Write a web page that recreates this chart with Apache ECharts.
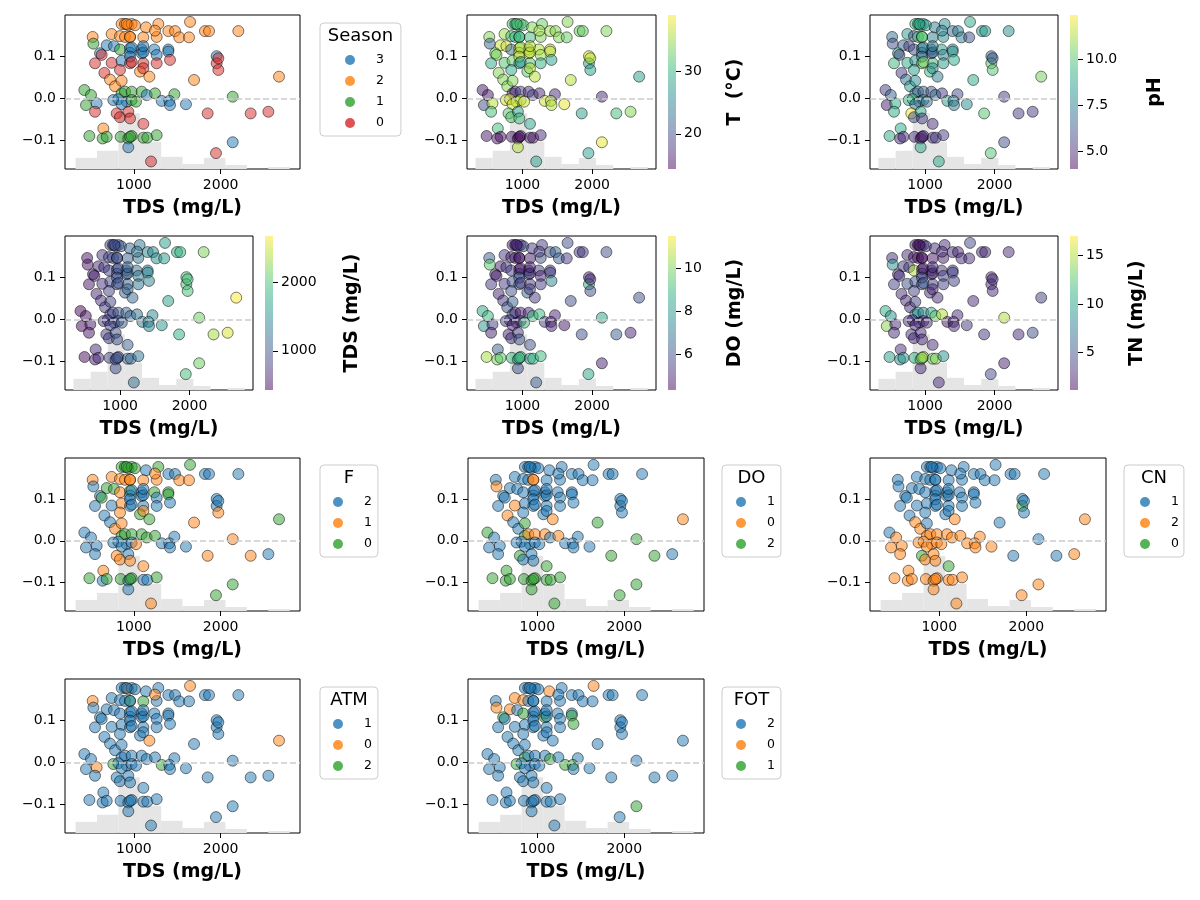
<!DOCTYPE html>
<html>
<head>
<meta charset="utf-8">
<script src="https://cdn.jsdelivr.net/npm/echarts@6/dist/echarts.min.js"></script>
<style>
  html, body { margin: 0; background: #fff; }
  #chart { width: 1200px; height: 900px; }
</style>
</head>
<body>
<div id="chart"></div>
<script>
// ---- data ----
const tds = [858,897,935,974,1012,1139,1281,1647,1397,1474,
  1819,1866,2204,524,743,839,897,955,1108,1262,
  1523,1635,1243,532,686,770,839,955,1089,1235,
  1397,609,628,955,1089,1262,1397,1954,551,743,
  858,955,1108,1262,1416,1954,1973,1973,659,839,
  1070,1108,1178,724,782,858,1693,2673,428,505,
  858,897,974,1089,1147,1243,1466,2139,447,570,
  762,820,916,974,1024,1320,1408,1416,1600,858,
  551,801,839,935,955,1850,2346,2550,1108,647,
  486,639,686,847,935,974,1108,1154,1262,2139,
  935,1946,1197,916,955,974,955,974,955,1108,1108];
const shap = [0.178,0.178,0.175,0.178,0.175,0.170,0.178,0.183,0.161,0.161,
  0.161,0.161,0.161,0.147,0.154,0.149,0.147,0.147,0.146,0.147,
  0.146,0.146,0.162,0.131,0.127,0.125,0.117,0.120,0.117,0.117,
  0.117,0.108,0.104,0.109,0.108,0.104,0.112,0.101,0.084,0.085,
  0.090,0.084,0.084,0.084,0.092,0.084,0.096,0.068,0.061,0.068,
  0.064,0.072,0.052,0.045,0.029,0.042,0.044,0.052,0.020,0.008,
  0.012,0.016,0.016,0.016,0.008,0.012,0.010,0.004,-0.016,-0.012,
  -0.004,-0.002,-0.008,-0.004,-0.008,-0.006,-0.006,-0.016,-0.014,-0.014,
  -0.032,-0.036,-0.045,-0.032,-0.048,-0.036,-0.036,-0.032,-0.061,-0.072,
  -0.090,-0.096,-0.092,-0.092,-0.096,-0.090,-0.094,-0.094,-0.088,-0.105,
  -0.117,-0.131,-0.151,0.178,0.147,0.122,0.100,0.087,-0.092,0.110,0.125];
const season = [2,2,2,2,2,2,2,2,2,2, 2,2,2,2,2,2,2,2,2,2, 2,2,2,1,3,3,1,3,3,3,
  3,3,0,3,3,3,3,3,0,0, 3,0,0,0,0,0,0,0,0,0, 2,0,2,2,2,2,2,2,1,1,
  1,1,1,1,3,1,1,1,1,3, 3,3,3,1,1,3,3,3,3,3, 0,0,0,0,0,0,0,0,0,2,
  1,1,1,1,1,1,1,1,1,3, 3,0,0,2,2,3,3,0,1,3,3];
const temp = [31,32,30,33,31,34,33,34,35,34, 33,33,34,34,35,31,30,31,31,34,
  34,33,35,22,37,37,22,37,36,36, 37,33,34,37,37,35,36,38,29,32,
  33,27,32,30,28,28,36,28,34,29, 32,36,36,34,34,34,36,28,16,16,
  17,17,19,17,19,17,17,17,20,36, 37,37,36,36,37,37,36,36,38,37,
  31,32,32,28,31,28,31,34,28,31, 16,16,15,16,15,16,16,16,17,38,
  36,28,28,31,30,35,36,28,15,36,36];
const ph = [9.5,9,9.5,8,9,7.5,8,9,7,7.5, 8.5,8.5,8,7,8.5,6,9.5,10,7.5,8,
  7.5,6,7.5,6,6.5,5.5,6,7.5,7,8.5, 8,9,5.5,7,5.5,7.5,8,7,9.5,9,
  8,10.5,9.5,8.5,9,10,6,10,5.5,8.5, 9.5,8,7.5,7,8.5,8,9,10.5,5.5,6.5,
  6.5,7,6.5,6,7,5.5,6,5.5,4.8,9, 9,9.5,7.5,7.5,7,8.5,7.5,7.5,8,7,
  9,12.3,6,9,5.5,10,5.5,5.5,5,9, 9,5,5,5,4.5,5.5,5,5.5,5.5,6,
  9,10,9,9,10,7.5,7,10.5,4.5,7,7.5];
const doVal = [5,4.8,5.5,5,6,5.5,5.5,6,6,6.5, 5.5,5.5,6,6.5,5.5,5,4.8,5,4.8,6,
  6.5,5.5,5.5,9.5,5,5.5,5.5,4.7,5,5.5, 5.5,5,5,5,5.5,5,5.5,5,5.5,5.5,
  6,6.5,5.5,5.5,7.5,9,5,6,5,6, 6.5,5.5,5.5,5.5,6,6.5,6,6,8.5,9,
  6.5,5,5,5,9,9,5,8.5,8,5.5, 5.5,5.5,5,5,9,5.5,5,5,4.8,5,
  5,5,5.5,5.5,6,6,6.5,5,6,6.5, 10.5,10,9.5,9,8.5,9,8,9,9,5,
  6,8.5,6.5,5,4.8,5,6.5,5.5,9,5.5,5];
const tn = [2,1.8,3,2.5,4,3,3,4.5,3,3, 3,3,3,3,3,2,1.5,1.5,2,2.5,
  3,3,3,9,4,3.5,15,2,3,3.5, 4,3,3.5,4,3,4,4,3,4,5,
  5,6,4,4,4,3,3,3,3,4, 3,3,3,3,3,4,3,4,11,9,
  8,9,8,10,13,15,3,15,14,3, 3,3,3,3,3,2,2.5,3,3.5,3,
  3,3.5,3,3,3,3.5,3,5,3,3, 10,9,9,11,13,15,13,14,9,2.5,
  3,4.5,3,2,1.8,2.5,4,5,14,3,3];
const fCat = [0,0,0,0,0,2,0,0,2,2, 2,2,2,1,1,1,1,1,1,1, 1,1,1,2,0,0,1,0,2,0,
  0,2,0,2,2,2,0,2,2,2, 1,2,2,2,2,2,2,1,2,1, 0,1,0,2,1,1,1,0,2,2,
  0,0,0,0,0,0,2,1,2,2, 2,2,2,2,1,2,2,2,2,2, 2,1,1,2,1,1,1,2,1,1,
  0,2,0,0,2,0,2,2,0,0, 2,0,1,0,1,2,2,2,0,2,2];
const doCat = [1,1,1,1,1,1,1,1,1,1, 1,1,1,1,1,1,1,0,1,1, 1,1,1,0,1,1,1,1,1,1,
  1,1,1,1,1,1,1,1,1,0, 1,1,1,1,1,1,1,1,0,1, 1,1,0,1,1,2,2,0,2,1,
  2,0,0,0,1,0,1,2,1,1, 1,1,1,1,1,1,1,1,1,1, 1,2,1,1,1,2,2,1,2,2,
  2,2,2,2,2,2,2,2,2,2, 2,2,2,1,0,1,1,1,2,1,1];
const cnCat = [1,1,1,1,1,1,1,1,1,1, 1,1,1,1,1,1,1,1,1,1, 1,1,1,1,1,1,1,1,1,1,
  1,1,1,1,1,1,1,1,1,1, 1,1,1,1,1,0,1,1,1,1, 1,1,2,2,2,1,1,2,1,2,
  2,2,2,2,2,2,2,1,2,2, 2,2,2,2,2,2,2,2,2,2, 2,0,2,2,2,1,1,2,0,2,
  2,2,2,2,2,2,2,2,2,2, 2,2,2,1,1,1,1,1,2,1,1];
const atmCat = [1,1,0,1,1,1,1,0,1,1, 1,1,1,0,1,1,1,2,2,1, 1,1,0,1,1,1,1,1,1,1,
  1,1,1,1,1,1,1,1,1,1, 1,1,1,1,1,1,1,1,1,1, 1,1,0,1,1,1,1,0,1,1,
  1,1,1,1,1,1,1,1,1,0, 2,1,1,1,1,2,1,1,1,1, 1,1,1,1,1,1,1,1,1,1,
  1,1,1,1,1,1,1,1,1,1, 1,1,1,1,1,1,1,1,1,1,1];
const fotCat = [2,2,2,2,2,0,2,0,2,2, 2,2,2,2,0,0,2,2,2,2, 2,2,2,0,0,2,1,2,2,2,
  2,1,2,2,1,2,1,2,2,2, 2,2,2,2,1,2,2,2,2,2, 2,2,2,2,2,2,2,2,2,2,
  1,2,2,2,1,2,2,2,2,2, 1,2,2,2,2,1,1,2,2,2, 2,2,2,2,2,2,2,2,2,2,
  2,2,2,2,2,2,2,2,2,1, 2,2,2,2,2,2,2,2,2,2,2];

// background histogram of TDS
const histEdges = [327, 574, 821, 1068, 1314, 1561, 1808, 2055, 2302, 2549, 2796];
const histCounts = [11, 18, 55, 27, 12, 5, 11, 4, 0, 2];

const xTicks = [1000, 2000];
const yTicks = [-0.1, 0.0, 0.1];

// ---- styling ----
const FONT = 'DejaVu Sans';
const X_MIN = 205, X_MAX = 2915;
const Y_MIN = -0.169, Y_MAX = 0.1995;
const HIST_MAX = 152;   // tallest bin reaches ~36% of the axes height
const tab10 = ['#1f77b4', '#ff7f0e', '#2ca02c', '#d62728'];
const viridis = ['#440154', '#472d7b', '#3b528b', '#2c728e', '#21918c',
                 '#28ae80', '#5ec962', '#addc30', '#fde725'];

const tdsMin = Math.min(...tds), tdsMax = Math.max(...tds);

const panels = [
  { kind: 'cat', title: 'Season', values: season, order: [3, 2, 1, 0],
    box: [65, 15, 235, 154], lg: { left: 320, top: 23, pl: 25, pr: 17 } },
  { kind: 'cont', values: temp, range: [14.4, 38.9], ticks: [20, 30], label: 'T  (°C)',
    box: [467, 15, 189, 154], cb: { left: 668, labelX: 735 } },
  { kind: 'cont', values: ph, range: [4.06, 12.37], ticks: [5, 7.5, 10], dec: 1, label: 'pH',
    box: [870, 15, 188, 154], cb: { left: 1070, labelX: 1155 } },
  { kind: 'cont', values: tds, range: [tdsMin, tdsMax], ticks: [1000, 2000], label: 'TDS (mg/L)',
    box: [65, 236, 188, 154], cb: { left: 265, labelX: 352 } },
  { kind: 'cont', values: doVal, range: [4.33, 11.5], ticks: [6, 8, 10], label: 'DO (mg/L)',
    box: [467, 236, 189, 154], cb: { left: 668, labelX: 735 } },
  { kind: 'cont', values: tn, range: [1.16, 17], ticks: [5, 10, 15], label: 'TN (mg/L)',
    box: [870, 236, 188, 154], cb: { left: 1070, labelX: 1137 } },
  { kind: 'cat', title: 'F', values: fCat, order: [2, 1, 0],
    box: [65, 458, 235, 153], lg: { left: 320, top: 465, pl: 13, pr: 6 } },
  { kind: 'cat', title: 'DO', values: doCat, order: [1, 0, 2],
    box: [468, 458, 236, 153], lg: { left: 722, top: 465, pl: 14, pr: 6 } },
  { kind: 'cat', title: 'CN', values: cnCat, order: [1, 2, 0],
    box: [870, 458, 236, 153], lg: { left: 1124, top: 465, pl: 16, pr: 5 } },
  { kind: 'cat', title: 'ATM', values: atmCat, order: [1, 0, 2],
    box: [65, 679, 235, 154], lg: { left: 320, top: 687, pl: 13, pr: 6 } },
  { kind: 'cat', title: 'FOT', values: fotCat, order: [2, 0, 1],
    box: [468, 679, 236, 154], lg: { left: 722, top: 687, pl: 14, pr: 6 } }
];

const fmtY = v => (v < 0 ? '\u2212' : '') + Math.abs(v).toFixed(1);
const tickLabel = { fontFamily: FONT, fontSize: 14, color: '#000' };

const grids = [], xAxes = [], yAxes = [], series = [], legends = [], visualMaps = [], graphics = [];
const histData = histCounts.map((c, i) => [histEdges[i], histEdges[i + 1], c]);

function rectItem(api, a, b, style) {
  return { type: 'rect', shape: { x: a[0], y: b[1], width: b[0] - a[0], height: a[1] - b[1] }, style };
}

panels.forEach((p, pi) => {
  const [left, top, width, height] = p.box;
  const gi = grids.length;
  grids.push({ left, top, width, height, show: true, borderColor: '#000', borderWidth: 1 });
  const xi = xAxes.length;
  xAxes.push({
    gridIndex: gi, type: 'value', min: X_MIN, max: X_MAX, position: 'bottom',
    name: 'TDS (mg/L)', nameLocation: 'middle', nameGap: 30,
    nameTextStyle: { fontFamily: FONT, fontSize: 19, fontWeight: 'bold', color: '#000' },
    axisLine: { show: false, onZero: false },
    axisTick: { show: true, length: 5, customValues: xTicks, lineStyle: { color: '#000' } },
    axisLabel: Object.assign({ customValues: xTicks, margin: 9, formatter: v => String(v) }, tickLabel),
    splitLine: { show: false }
  });
  const yi = yAxes.length;
  yAxes.push({
    gridIndex: gi, type: 'value', min: Y_MIN, max: Y_MAX, position: 'left',
    axisLine: { show: false, onZero: false },
    axisTick: { show: true, length: 5, customValues: yTicks, lineStyle: { color: '#000' } },
    axisLabel: Object.assign({ customValues: yTicks, formatter: fmtY, margin: 9 }, tickLabel),
    splitLine: { show: false }
  });
  const yh = yAxes.length;
  yAxes.push({ gridIndex: gi, type: 'value', min: 0, max: HIST_MAX, show: false, splitLine: { show: false } });

  // histogram in the background
  series.push({
    type: 'custom', xAxisIndex: xi, yAxisIndex: yh, silent: true, z: 1,
    encode: { x: [0, 1], y: 2 }, data: histData,
    renderItem: (params, api) => rectItem(api,
      api.coord([api.value(0), 0]), api.coord([api.value(1), api.value(2)]),
      { fill: '#e5e5e5' })
  });
  // dashed zero line
  series.push({
    type: 'scatter', xAxisIndex: xi, yAxisIndex: yi, data: [], z: 2, silent: true,
    markLine: {
      silent: true, symbol: ['none', 'none'], label: { show: false },
      lineStyle: { color: '#cccccc', type: [6, 3], width: 1.5 },
      data: [{ yAxis: 0 }]
    }
  });
  // points
  const pts = tds.map((x, k) => [x, shap[k], p.values[k]]);
  const ptSeries = {
    type: 'scatter', xAxisIndex: xi, yAxisIndex: yi, z: 3, data: pts,
    symbol: 'circle', symbolSize: 11,
    itemStyle: { opacity: 0.5, borderColor: '#000', borderWidth: 1 }
  };
  if (p.kind === 'cat') {
    ptSeries.itemStyle.color = prm => tab10[p.order.indexOf(prm.data[2])];
  }
  series.push(ptSeries);

  if (p.kind === 'cont') {
    visualMaps.push({
      type: 'continuous', show: false, seriesIndex: series.length - 1, dimension: 2,
      min: p.range[0], max: p.range[1], inRange: { color: viridis }
    });
    // colour bar
    const cg = grids.length;
    grids.push({ left: p.cb.left, top, width: 8, height, show: false });
    const cx = xAxes.length;
    xAxes.push({ gridIndex: cg, type: 'value', min: 0, max: 1, show: false });
    const cy = yAxes.length;
    yAxes.push({
      gridIndex: cg, type: 'value', position: 'right', min: p.range[0], max: p.range[1],
      axisLine: { show: false, onZero: false },
      axisTick: { show: true, length: 5, customValues: p.ticks, lineStyle: { color: '#000' } },
      axisLabel: Object.assign({
        customValues: p.ticks, margin: 8,
        formatter: v => p.dec ? v.toFixed(p.dec) : String(v)
      }, tickLabel),
      splitLine: { show: false }
    });
    const stops = viridis.slice().reverse().map((c, i) => ({ offset: i / (viridis.length - 1), color: c }));
    series.push({
      type: 'custom', xAxisIndex: cx, yAxisIndex: cy, silent: true,
      encode: { y: [0, 1] }, data: [[p.range[0], p.range[1]]],
      renderItem: (params, api) => rectItem(api,
        api.coord([0, api.value(0)]), api.coord([1, api.value(1)]),
        { fill: new echarts.graphic.LinearGradient(0, 0, 0, 1, stops), opacity: 0.5 })
    });
    graphics.push({
      type: 'text', x: p.cb.labelX, y: top + height / 2, rotation: Math.PI / 2,
      style: { text: p.label, font: 'bold 19px "DejaVu Sans"', fill: '#000',
               align: 'center', verticalAlign: 'middle' }
    });
  } else {
    // legend entries: empty series carrying the category colour
    const names = p.order.map((c, j) => {
      const nm = pi + '|' + c;
      series.push({
        type: 'scatter', name: nm, xAxisIndex: xi, yAxisIndex: yi, data: [],
        itemStyle: { color: tab10[j], borderWidth: 0 }
      });
      return nm;
    });
    legends.push({
      data: names, left: p.lg.left, top: p.lg.top, orient: 'vertical',
      icon: 'circle', itemWidth: 10, itemHeight: 10, itemGap: 7,
      padding: [30, p.lg.pr, 6, p.lg.pl],
      borderColor: '#cccccc', borderWidth: 1, borderRadius: 4, backgroundColor: '#fff',
      selectedMode: false,
      formatter: n => n.split('|')[1],
      textStyle: { fontFamily: FONT, fontSize: 12.5, color: '#000', lineHeight: 14, padding: [0, 0, 0, 16] }
    });
    graphics.push({
      type: 'text', z: 100, x: 0, y: 0,
      style: { text: p.title, font: '18px "DejaVu Sans"', fill: '#000', align: 'center', verticalAlign: 'middle' },
      _lg: p.lg
    });
  }
});

const chart = echarts.init(document.getElementById('chart'));
chart.setOption({
  animation: false,
  backgroundColor: '#fff',
  textStyle: { fontFamily: FONT },
  grid: grids, xAxis: xAxes, yAxis: yAxes,
  visualMap: visualMaps, legend: legends, series: series
});

// legend titles sit centred above the entries, inside the legend frame
const legendModels = chart.getModel().findComponents({ mainType: 'legend' });
let li = 0;
graphics.forEach(g => {
  if (g._lg) {
    const view = chart.getViewOfComponentModel(legendModels[li]);
    const rect = view.group.getBoundingRect();
    g.x = view.group.x + rect.x + rect.width / 2;
    g.y = g._lg.top + 13;
    delete g._lg;
    li++;
  }
});
chart.setOption({ graphic: graphics });
</script>
</body>
</html>
